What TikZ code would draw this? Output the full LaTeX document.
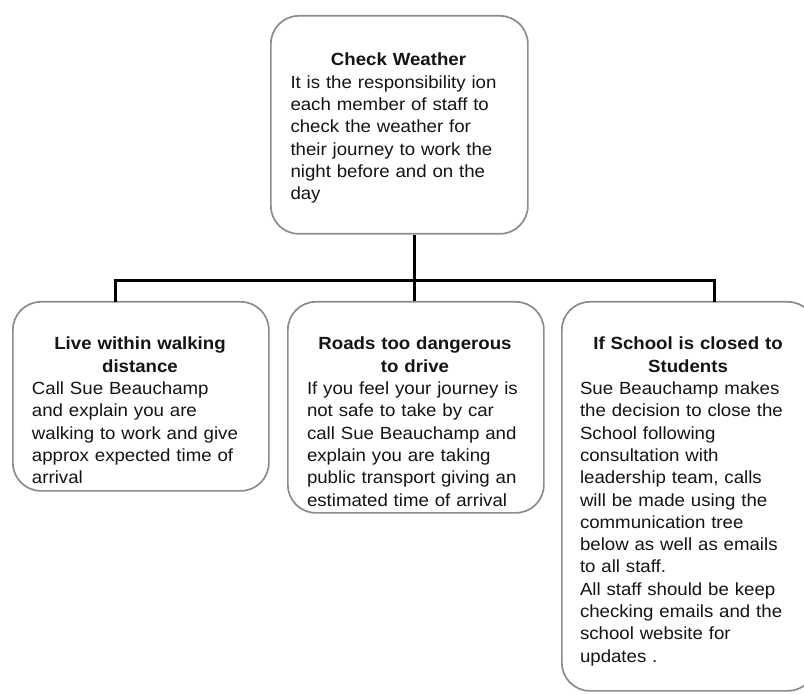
\documentclass[tikz,border=0pt]{standalone}
\usepackage{fontspec}
\setmainfont{Liberation Sans}[FakeStretch=1.06]
\setlength{\parindent}{0pt}
\definecolor{boxline}{RGB}{140,140,140}
\definecolor{inktext}{RGB}{20,20,20}
\begin{document}
\begin{tikzpicture}[x=1pt,y=-1pt,
  box/.style={draw=boxline, line width=1.7pt, rounded corners=28pt, fill=white,
    anchor=north west, inner sep=0pt},
  txt/.style={anchor=north, inner sep=0pt, text width=216pt, align=left,
    text=inktext, font=\fontsize{17.6}{22.3}\selectfont},
  link/.style={draw=black, line width=3pt}]
\useasboundingbox (0,0) rectangle (804,695);
\clip (0,0) rectangle (804,695);

% boxes
\node[box, minimum width=257pt, minimum height=218pt] (top) at (270,15) {};
\node[box, minimum width=256pt, minimum height=189pt] (left) at (12,301) {};
\node[box, minimum width=256pt, minimum height=211pt] (mid) at (287,301) {};
\node[box, minimum width=254pt, minimum height=389pt] (right) at (561,301) {};

% connectors
\coordinate (busL) at (115,281);
\coordinate (busM) at (414,281);
\coordinate (busR) at (714,281);
\draw[link] (top.south -| busM) -- (busM);
\draw[link, line cap=rect] (busL |- left.north) -- (busL) -- (busR) -- (busR |- right.north);
\draw[link] (busM) -- (busM |- mid.north);

% texts
\node[txt] (toptxt) at (398.5,53) {{\centering\bfseries Check Weather\par}
It is the responsibility ion\\
each member of staff to\\
check the weather for\\
their journey to work the\\
night before and on the\\
day};

\node[txt] (lefttxt) at (140,337) {{\centering\bfseries Live within walking\\ distance\par}
Call Sue Beauchamp\\
and explain you are\\
walking to work and give\\
approx expected time of\\
arrival};

\node[txt] (midtxt) at (415,337) {{\centering\bfseries Roads too dangerous\\ to drive\par}
If you feel your journey is\\
not safe to take by car\\
call Sue Beauchamp and\\
explain you are taking\\
public transport giving an\\
estimated time of arrival};

\node[txt] (righttxt) at (688,337) {{\centering\bfseries If School is closed to\\ Students\par}
Sue Beauchamp makes\\
the decision to close the\\
School following\\
consultation with\\
leadership team, calls\\
will be made using the\\
communication tree\\
below as well as emails\\
to all staff.\\
All staff should be keep\\
checking emails and the\\
school website for\\
updates .};
\end{tikzpicture}
\end{document}
